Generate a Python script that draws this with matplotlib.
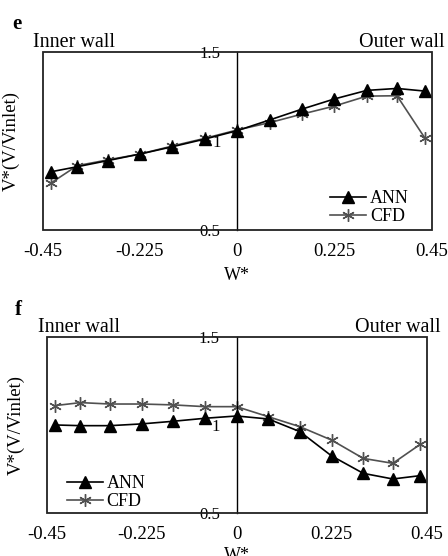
#!/usr/bin/env python3
import matplotlib

matplotlib.use("Agg")
import matplotlib.pyplot as plt
from matplotlib.patches import Rectangle

plt.rcParams["font.family"] = ["Liberation Serif", "DejaVu Serif"]

# W* positions across the channel (same for both panels)
w_star = [-0.43, -0.37, -0.3, -0.225, -0.15, -0.075, 0, 0.075, 0.15, 0.225, 0.3, 0.37, 0.435]

# panel e
ann_e = [0.827, 0.855, 0.889, 0.926, 0.967, 1.010, 1.057, 1.117, 1.178, 1.235, 1.283, 1.294, 1.279]
cfd_e = [0.765, 0.861, 0.893, 0.926, 0.971, 1.014, 1.061, 1.102, 1.150, 1.195, 1.251, 1.253, 1.014]

# panel f
ann_f = [1.002, 0.998, 0.998, 1.008, 1.023, 1.040, 1.053, 1.036, 0.964, 0.826, 0.727, 0.695, 0.714]
cfd_f = [1.112, 1.129, 1.121, 1.121, 1.116, 1.106, 1.106, 1.049, 0.992, 0.916, 0.812, 0.784, 0.892]

x_ticks = [-0.45, -0.225, 0, 0.225, 0.45]
x_ticklabels = ["-0.45", "-0.225", "0", "0.225", "0.45"]
y_ticks = [0.5, 1, 1.5]
y_ticklabels = ["0.5", "1", "1.5"]

FS = 13
CFD_GREY = "#505050"


def draw_panel(ax, ann, cfd, letter, letter_xy, wall_pos, legend_anchor, xlabel_y):
    ax.plot(w_star, ann, color="black", lw=1.2, marker="^", ms=8,
            mfc="black", mec="black", label="ANN", clip_on=False, zorder=3)
    ax.plot(w_star, cfd, color=CFD_GREY, lw=1.2, marker=(6, 2, 0), ms=9,
            mew=1.0, mec=CFD_GREY, label="CFD", clip_on=False, zorder=2)

    ax.set_xlim(-0.45, 0.45)
    ax.set_ylim(0.5, 1.5)

    # y axis drawn through W* = 0, box drawn around the plot area
    for side in ("top", "right", "bottom"):
        ax.spines[side].set_visible(False)
    ax.spines["left"].set_position(("data", 0))
    ax.spines["left"].set_linewidth(1.0)
    ax.add_patch(Rectangle((0, 0), 1, 1, transform=ax.transAxes, fill=False,
                           lw=1.3, ec="#222222", clip_on=False, zorder=4))

    ax.set_xticks(x_ticks)
    ax.set_xticklabels(x_ticklabels, fontsize=13.5)
    ax.set_yticks(y_ticks)
    ax.set_yticklabels(y_ticklabels, fontsize=12)
    ax.tick_params(axis="x", length=0, pad=9)
    ax.tick_params(axis="y", length=0, pad=12)

    ax.set_xlabel("W*", fontsize=FS)
    ax.xaxis.set_label_coords(0.5, xlabel_y)
    ax.set_ylabel("V*(V/Vinlet)", fontsize=13.5)
    ax.yaxis.set_label_coords(-0.058, 0.5)

    ax.text(wall_pos[0], wall_pos[2], "Inner wall", transform=ax.transAxes,
            fontsize=14.5, ha="left", va="baseline")
    ax.text(wall_pos[1], wall_pos[2], "Outer wall", transform=ax.transAxes,
            fontsize=14.5, ha="right", va="baseline")

    ax.figure.text(letter_xy[0], letter_xy[1], letter, fontsize=15,
                   fontweight="bold", ha="left", va="baseline")

    ax.legend(loc="upper left", bbox_to_anchor=legend_anchor, frameon=False,
              fontsize=FS, borderpad=0, borderaxespad=0, handlelength=2.0,
              handletextpad=0.2, labelspacing=0.05)


def main():
    fig = plt.figure(figsize=(4.48, 5.56), dpi=100)
    ax_e = fig.add_axes([0.0953, 0.5863, 0.868, 0.3207])
    ax_f = fig.add_axes([0.1042, 0.0768, 0.848, 0.3165])

    draw_panel(ax_e, ann_e, cfd_e, "e", (12 / 448, 1 - 29 / 556),
               (-0.025, 1.034, 1.028), (0.739, 0.224), -0.21)
    draw_panel(ax_f, ann_f, cfd_f, "f", (15 / 448, 1 - 315 / 556),
               (-0.022, 1.037, 1.032), (0.053, 0.218), -0.19)

    fig.savefig("out.png", dpi=100)


if __name__ == "__main__":
    main()
